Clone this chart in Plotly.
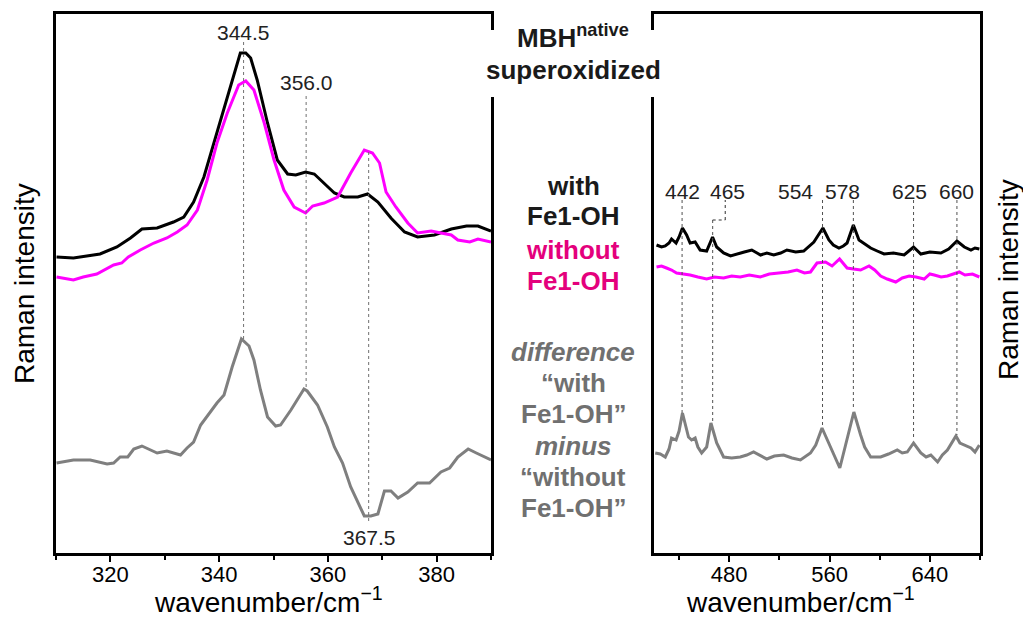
import plotly.graph_objects as go

# ---------------- data (arbitrary Raman intensity units) ----------------
# Left panel, 310-390 cm-1
left_wn_with = [310.1, 313.2, 318.1, 321.2, 323.7, 325.8, 328.6, 331.6, 333.5, 335.3, 337.2, 339.6,
                342.1, 343.9, 344.9, 345.8, 347.0, 348.9, 350.7, 352.6, 354.1, 355.9, 357.5, 359.3,
                361.2, 363.0, 365.5, 367.3, 369.2, 371.6, 374.1, 376.5, 379.6, 382.7, 385.5, 387.6, 390.0]
left_int_with = [296, 295, 299, 306, 315, 324, 325, 331, 336, 351, 376, 420,
                 466, 500, 500, 495, 473, 430, 393, 379, 378, 381, 379, 370,
                 360, 356, 356, 359, 351, 335, 321, 316, 318, 324, 327, 327, 322]

left_wn_without = [310.1, 313.2, 315.0, 317.5, 320.6, 322.1, 323.3, 325.5, 328.0, 330.4, 332.3, 334.1,
                   336.0, 337.8, 339.6, 341.5, 343.6, 344.9, 346.4, 348.3, 350.1, 351.9, 353.8, 355.9,
                   357.2, 359.3, 361.8, 364.2, 366.7, 368.2, 369.5, 370.7, 372.5, 374.7, 376.5, 379.0,
                   380.8, 382.7, 383.9, 386.1, 387.6, 390.0]
left_int_without = [276, 273, 276, 279, 288, 290, 296, 303, 310, 315, 321, 328,
                    343, 373, 410, 440, 468, 472, 463, 430, 393, 363, 346, 340,
                    347, 350, 356, 380, 403, 400, 390, 361, 346, 330, 320, 322,
                    320, 318, 313, 311, 314, 311]

left_wn_diff = [310.1, 313.2, 316.3, 319.4, 320.6, 321.8, 323.2, 324.3, 325.8, 328.6, 330.4, 332.9,
                334.1, 335.3, 336.6, 338.4, 339.6, 340.9, 342.4, 344.1, 345.5, 346.4, 347.6, 348.9,
                350.4, 351.3, 353.2, 355.6, 356.2, 358.1, 359.9, 361.2, 362.7, 364.2, 365.5, 366.7,
                367.9, 369.2, 370.4, 371.6, 372.9, 374.7, 376.5, 378.7, 380.8, 382.4, 383.9, 385.8,
                387.3, 390.0]
left_int_diff = [90, 93, 93, 89, 90, 96, 96, 104, 107, 100, 102, 98,
                 105, 111, 128, 141, 150, 158, 186, 214, 207, 193, 163, 136,
                 127, 128, 143, 164, 162, 148, 126, 106, 90, 66, 50, 37,
                 37, 39, 62, 62, 55, 61, 70, 70, 81, 85, 96, 104,
                 100, 93]

# Right panel, 420-680 cm-1
right_wn_with = [422, 426, 429, 432, 434, 437.6, 440, 442.7, 446, 448.8, 452.8, 456.8, 462, 466.7,
                 470, 475.5, 481, 486, 492, 498, 505, 510, 515.5, 521, 526, 533, 539.4, 547.5,
                 554.7, 559.5, 563, 567.5, 571, 574, 579, 583.5, 588, 592.8, 598, 603.5, 611, 619.5,
                 627, 632.8, 640, 648.8, 655, 661.6, 667.5, 672.8, 676, 679.5]
right_int_with = [308, 306, 307, 310, 314, 310, 316, 325, 318, 310, 311, 303, 302, 316,
                  306, 300, 297, 299, 301, 303, 298, 300, 298, 300, 303, 301, 302, 311,
                  325, 313, 308, 305, 307, 310, 328, 313, 309, 305, 302, 299, 300, 298,
                  306, 299, 301, 300, 304, 312, 306, 303, 305, 304]

right_wn_without = [422, 426, 430, 434, 438, 443, 448.8, 455, 462, 468, 475.5, 482, 488.8, 496,
                    504.8, 512, 520.8, 527, 534, 540, 544.8, 550, 556.8, 562, 568, 574, 579,
                    584.8, 591.5, 596, 600.8, 606, 612.8, 618, 623.5, 629, 635.5, 640, 643.5,
                    649, 654, 659, 663.5, 668, 674, 679.5]
right_int_without = [286, 287, 285, 283, 280, 279, 278, 276, 274, 276, 275, 277, 276, 278,
                     276, 279, 280, 281, 283, 280, 281, 290, 291, 287, 294, 285, 284,
                     283, 287, 283, 277, 274, 271, 275, 277, 276, 274, 279, 278,
                     276, 277, 279, 281, 278, 279, 276]

right_wn_diff = [421, 425, 429, 432, 434, 437.6, 440, 442.7, 447.5, 450, 452.8, 455, 458, 462,
                 465.4, 470, 475.5, 482, 488.8, 494, 499.4, 505, 510, 516, 523.4, 530, 536.8,
                 544.8, 549, 554, 559.4, 564.8, 568.2, 572.8, 579.4, 584.8, 588, 592.8, 600.8,
                 607, 614, 618, 622, 627, 632.8, 637, 640.8, 646.2, 650, 654, 660.8, 664,
                 667.5, 672.8, 676, 679.5]
right_int_diff = [100, 99, 96, 104, 115, 113, 122, 140, 116, 113, 115, 106, 100, 106,
                  130, 110, 96, 95, 96, 98, 101, 97, 94, 97, 98, 95, 93,
                  100, 108, 125, 110, 95, 85, 108, 141, 118, 106, 96, 96,
                  99, 103, 100, 101, 110, 100, 96, 98, 91, 98, 103, 117, 110,
                  108, 105, 101, 108]

# Peak markers
left_peaks = [344.5, 356.0, 367.5]
left_peak_labels = ["344.5", "356.0", "367.5"]
right_peak_labels = ["442", "465", "554", "578", "625", "660"]

left_ticks = [320, 340, 360, 380]
right_ticks = [480, 560, 640]

# ---------------- figure ----------------
BLACK = "#000000"
MAGENTA = "#ff00ff"
GRAY = "#7f7f7f"
FONT = "Liberation Sans, Arial, sans-serif"

fig = go.Figure()

def add(x, y, color, xa, ya):
    fig.add_trace(go.Scatter(x=x, y=y, mode="lines", line=dict(color=color, width=3),
                             xaxis=xa, yaxis=ya, showlegend=False, hoverinfo="skip"))

add(left_wn_with, left_int_with, BLACK, "x", "y")
add(left_wn_without, left_int_without, MAGENTA, "x", "y")
add(left_wn_diff, left_int_diff, GRAY, "x", "y")
add(right_wn_with, right_int_with, BLACK, "x2", "y2")
add(right_wn_without, right_int_without, MAGENTA, "x2", "y2")
add(right_wn_diff, right_int_diff, GRAY, "x2", "y2")

# geometry in pixels
W, H = 1023, 617
L, R, T, B = 56, 980, 14, 553
PW, PH = R - L, B - T

def px(x):
    return (x - L) / PW

def py(y):
    return (B - y) / PH

axis_common = dict(showline=True, linewidth=3, linecolor="black", mirror=True,
                   showgrid=False, zeroline=False)

fig.update_layout(
    width=W, height=H,
    margin=dict(l=L, r=W - R, t=T, b=H - B),
    paper_bgcolor="white", plot_bgcolor="white",
    font=dict(family=FONT, color="black"),
    xaxis=dict(domain=[0, px(491)], range=[310, 390], tickvals=left_ticks,
               ticks="outside", ticklen=6, tickwidth=2, tickcolor="black",
               tickfont=dict(size=22), ticklabelstandoff=-6,
               minor=dict(dtick=10, tick0=310, ticks="outside", ticklen=4, tickwidth=2, tickcolor="black"),
               **axis_common),
    yaxis=dict(domain=[0, 1], range=[0, 539], showticklabels=False, ticks="", **axis_common),
    xaxis2=dict(domain=[px(654), 1], range=[420, 680], tickvals=right_ticks, anchor="y2",
                ticks="outside", ticklen=6, tickwidth=2, tickcolor="black",
                tickfont=dict(size=22), ticklabelstandoff=-6,
                minor=dict(dtick=40, tick0=440, ticks="outside", ticklen=4, tickwidth=2, tickcolor="black"),
                **axis_common),
    yaxis2=dict(domain=[0, 1], range=[0, 539], anchor="x2", showticklabels=False, ticks="", **axis_common),
)

# dotted peak lines (left)
left_line_spans = [(511, 213), (457, 165), (401, 31)]
for xv, (y0, y1) in zip(left_peaks, left_line_spans):
    fig.add_shape(type="line", xref="x", yref="y", x0=xv, x1=xv, y0=y0, y1=y1,
                  line=dict(color="#707070", width=1, dash="dot"))

# dotted peak lines (right): positions of the peaks in the spectrum
right_line_pos = [442.4, 466.8, 554.4, 579.0, 627.0, 661.6]
right_line_bottom = [140, 130, 126, 143, 113, 118]
for i, (xv, yb) in enumerate(zip(right_line_pos, right_line_bottom)):
    top = 353 if i != 1 else 333
    fig.add_shape(type="line", xref="x2", yref="y2", x0=xv, x1=xv, y0=top, y1=yb,
                  line=dict(color="#505050", width=1, dash="dot"))
# elbow for 465 label
fig.add_shape(type="line", xref="x2", yref="y2", x0=466.8, x1=476.8, y0=333, y1=333,
              line=dict(color="#303030", width=1, dash="dot"))
fig.add_shape(type="line", xref="x2", yref="y2", x0=476.8, x1=476.8, y0=333, y1=353,
              line=dict(color="#303030", width=1, dash="dot"))

# white box interrupting the inner borders behind the title
fig.add_shape(type="rect", xref="paper", yref="paper", x0=px(484), x1=px(662), y0=py(97), y1=py(30),
              fillcolor="white", line=dict(width=0), layer="above")

# peak labels
lab_font = dict(size=21, color="#222222", family=FONT)
left_lab_pos = [(344.4, 521), (356.0, 471), (367.7, 16)]
for t, (xv, yv) in zip(left_peak_labels, left_lab_pos):
    fig.add_annotation(x=xv, y=yv, xref="x", yref="y", text=t, showarrow=False,
                       font=lab_font, xanchor="center", yanchor="middle")
right_lab_x = [442.4, 478.4, 532.8, 570.4, 624.0, 661.6]
for t, xv in zip(right_peak_labels, right_lab_x):
    fig.add_annotation(x=xv, y=362, xref="x2", yref="y2", text=t, showarrow=False,
                       font=lab_font, xanchor="center", yanchor="middle")

# middle legend-like text
CX = 573
def mtext(t, y, color, size=26):
    fig.add_annotation(x=px(CX), y=py(y), xref="paper", yref="paper", text=t, showarrow=False,
                       font=dict(size=size, color=color, family=FONT), xanchor="center", yanchor="middle")

mtext("<b>MBH<sup>native</sup></b>", 37, "#1a1a1a")
mtext("<b>superoxidized</b>", 70, "#1a1a1a")
mtext("<b>with</b>", 186, "#1a1a1a")
mtext("<b>Fe1-OH</b>", 216, "#1a1a1a")
mtext("<b>without</b>", 250, "#e4007c")
mtext("<b>Fe1-OH</b>", 281, "#e4007c")
G = "#707070"
mtext("<b><i>difference</i></b>", 352, G)
mtext("<b>\u201cwith</b>", 383, G)
mtext("<b>Fe1-OH\u201d</b>", 414, G)
mtext("<b><i>minus</i></b>", 446, G)
mtext("<b>\u201cwithout</b>", 477, G)
mtext("<b>Fe1-OH\u201d</b>", 508, G)

# axis titles
fig.add_annotation(x=px(268), y=py(600), xref="paper", yref="paper",
                   text="wavenumber/cm<sup>\u22121</sup>", showarrow=False,
                   font=dict(size=28, color="black", family=FONT), xanchor="center", yanchor="middle")
fig.add_annotation(x=px(800), y=py(600), xref="paper", yref="paper",
                   text="wavenumber/cm<sup>\u22121</sup>", showarrow=False,
                   font=dict(size=28, color="black", family=FONT), xanchor="center", yanchor="middle")
fig.add_annotation(x=px(24), y=py(284), xref="paper", yref="paper", text="Raman intensity",
                   showarrow=False, textangle=-90,
                   font=dict(size=28, color="black", family=FONT), xanchor="center", yanchor="middle")
fig.add_annotation(x=px(1008), y=py(280), xref="paper", yref="paper", text="Raman intensity",
                   showarrow=False, textangle=-90,
                   font=dict(size=28, color="black", family=FONT), xanchor="center", yanchor="middle")

fig.write_html("out.html")
